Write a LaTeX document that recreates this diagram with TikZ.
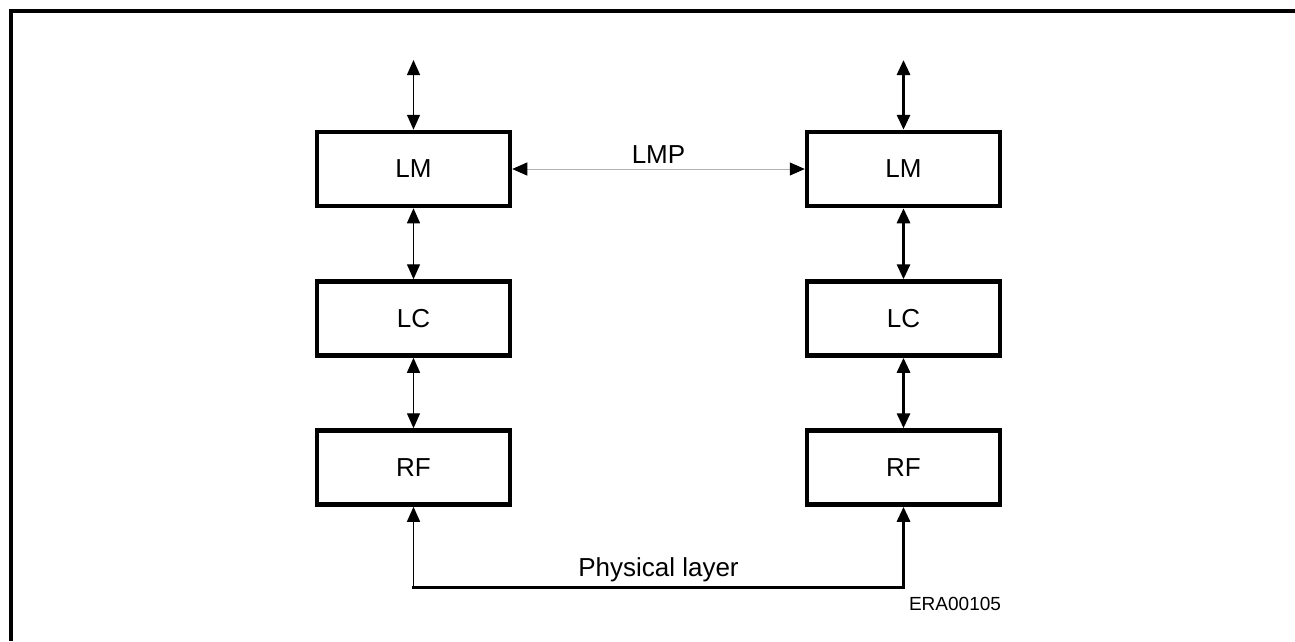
\documentclass[tikz,border=0pt]{standalone}
\usepackage{fontspec}
\setmainfont{Liberation Sans}
\usetikzlibrary{arrows.meta}
\tikzset{tri/.tip={Triangle[width=13pt,length=15pt,color=black]}}
\begin{document}
\begin{tikzpicture}[x=1pt,y=-1pt,
  blk/.style={draw=black,line width=4.5pt,minimum width=193pt,minimum height=74pt,inner sep=0pt,font=\fontsize{26}{30}\selectfont,fill=white},
  thinc/.style={line width=1.3pt,{tri}-{tri}},
  thickc/.style={line width=3pt,{tri}-{tri}},
  lbl/.style={font=\fontsize{26}{30}\selectfont,inner sep=0pt}]
\useasboundingbox (0,0) rectangle (1295,641);
\fill[white] (0,0) rectangle (1295,641);
\draw[line width=4pt] (11,641) -- (11,11) -- (1295,11);
% left column
\node[blk] (lm1) at (413.5,169) {LM};
\node[blk] (lc1) at (413.5,318.5) {LC};
\node[blk] (rf1) at (413.5,467.5) {RF};
% right column
\node[blk] (lm2) at (903.5,169) {LM};
\node[blk] (lc2) at (903.5,318.5) {LC};
\node[blk] (rf2) at (903.5,467.5) {RF};
\coordinate (t1) at (413.5,60);
\coordinate (t2) at (903.5,60);
\draw[thinc] (t1) -- (lm1.north);
\draw[thinc] (lm1.south) -- (lc1.north);
\draw[thinc] (lc1.south) -- (rf1.north);
\draw[thickc] (t2) -- (lm2.north);
\draw[thickc] (lm2.south) -- (lc2.north);
\draw[thickc] (lc2.south) -- (rf2.north);
% LMP
\draw[draw=black!30,line width=1pt,{tri}-{tri}] (lm1.east) -- (lm2.west) node[lbl,midway,above=5pt] {LMP};
% physical layer
\coordinate (p1) at (413.5,587.5);
\coordinate (p2) at (903.5,587.5);
\draw[line width=1.3pt,-{tri}] (p1) -- (rf1.south);
\draw[line width=3pt,-{tri}] (p2) -- (rf2.south);
\draw[line width=3pt,line cap=rect] (p1) -- (p2) node[lbl,midway,above=4pt] (phy) {Physical layer};
\node[font=\fontsize{19}{22}\selectfont,inner sep=0pt] (era) at (955,604) {ERA00105};
\end{tikzpicture}
\end{document}
